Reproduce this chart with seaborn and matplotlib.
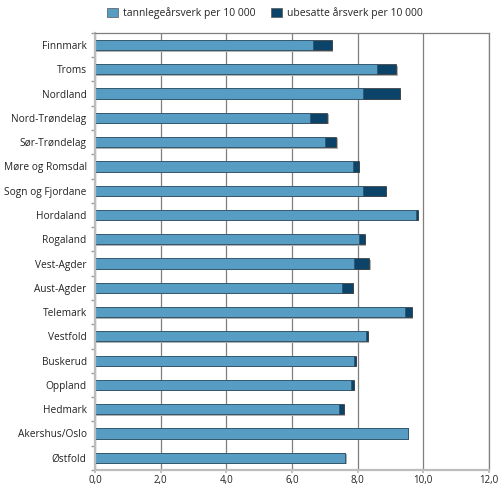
import matplotlib
matplotlib.use("Agg")
import matplotlib.pyplot as plt
import matplotlib.patheffects as pe
from matplotlib.patches import Patch
from matplotlib.ticker import FuncFormatter, MultipleLocator
import seaborn as sns
import pandas as pd

regions = ["Finnmark", "Troms", "Nordland", "Nord-Trøndelag", "Sør-Trøndelag",
           "Møre og Romsdal", "Sogn og Fjordane", "Hordaland", "Rogaland",
           "Vest-Agder", "Aust-Agder", "Telemark", "Vestfold", "Buskerud",
           "Oppland", "Hedmark", "Akershus/Oslo", "Østfold"]
tannlege = [6.64, 8.58, 8.15, 6.54, 7.00, 7.85, 8.15, 9.79, 8.03,
            7.89, 7.52, 9.45, 8.24, 7.89, 7.79, 7.44, 9.52, 7.62]
ubesatte = [0.57, 0.60, 1.13, 0.53, 0.35, 0.18, 0.71, 0.04, 0.19,
            0.46, 0.33, 0.19, 0.06, 0.05, 0.10, 0.13, 0.00, 0.00]

label_a = "tannlegeårsverk per 10 000"
label_b = "ubesatte årsverk per 10 000"
c_light = "#579dc3"
c_dark = "#0b4468"

df = pd.DataFrame({"region": regions, "a": tannlege, "b": ubesatte})
df["total"] = df["a"] + df["b"]

sns.set_theme(style="white")
plt.rcParams["font.family"] = ["Open Sans", "DejaVu Sans"]

fig = plt.figure(figsize=(5.0, 4.91), dpi=100)
ax = fig.add_axes([0.19, 0.043, 0.788, 0.89])

shadow = [pe.SimplePatchShadow(offset=(1, -1), shadow_rgbFace="#b0b0b0", alpha=1.0), pe.Normal()]

sns.barplot(data=df, x="total", y="region", orient="h", color=c_dark,
            saturation=1, width=0.42, edgecolor="#333333", linewidth=0.5, ax=ax)
n_first = len(ax.patches)
sns.barplot(data=df, x="a", y="region", orient="h", color=c_light,
            saturation=1, width=0.42, edgecolor="#2d4f66", linewidth=0.5, ax=ax)
for i, p in enumerate(ax.patches):
    if i < n_first:
        p.set_path_effects(shadow)

ax.set_xlim(0, 12)
ax.set_ylim(len(regions) - 0.5, -0.5)
ax.xaxis.set_major_locator(MultipleLocator(2))
ax.xaxis.set_major_formatter(FuncFormatter(lambda v, _: f"{v:.1f}".replace(".", ",")))
ax.grid(axis="x", color="#7f7f7f", linewidth=0.9)
ax.set_axisbelow(True)
ax.set_xlabel("")
ax.set_ylabel("")

for s in ["top", "right"]:
    ax.spines[s].set_color("#7f7f7f")
    ax.spines[s].set_linewidth(0.9)
for s in ["left", "bottom"]:
    ax.spines[s].set_color("#bdbdbd")
    ax.spines[s].set_linewidth(1.6)

ax.tick_params(axis="y", length=0, labelsize=7.3, pad=6, labelcolor="#222222")
ax.tick_params(axis="x", length=2, color="#bdbdbd", labelsize=7.0, pad=2, labelcolor="#222222")
ax.set_yticks([i + 0.5 for i in range(-1, len(regions))], minor=True)
ax.tick_params(axis="y", which="minor", length=3, color="#999999", left=True)
ax.tick_params(axis="x", bottom=True)

handles = [Patch(facecolor=c_light, edgecolor="#555555", linewidth=0.5, label=label_a),
           Patch(facecolor=c_dark, edgecolor="#555555", linewidth=0.5, label=label_b)]
fig.legend(handles=handles, loc="upper center", bbox_to_anchor=(0.53, 1.005), ncol=2,
           frameon=False, fontsize=7.5, handlelength=1.0, handleheight=1.0,
           handletextpad=0.5, columnspacing=1.5)

fig.savefig("out.png", dpi=100)
